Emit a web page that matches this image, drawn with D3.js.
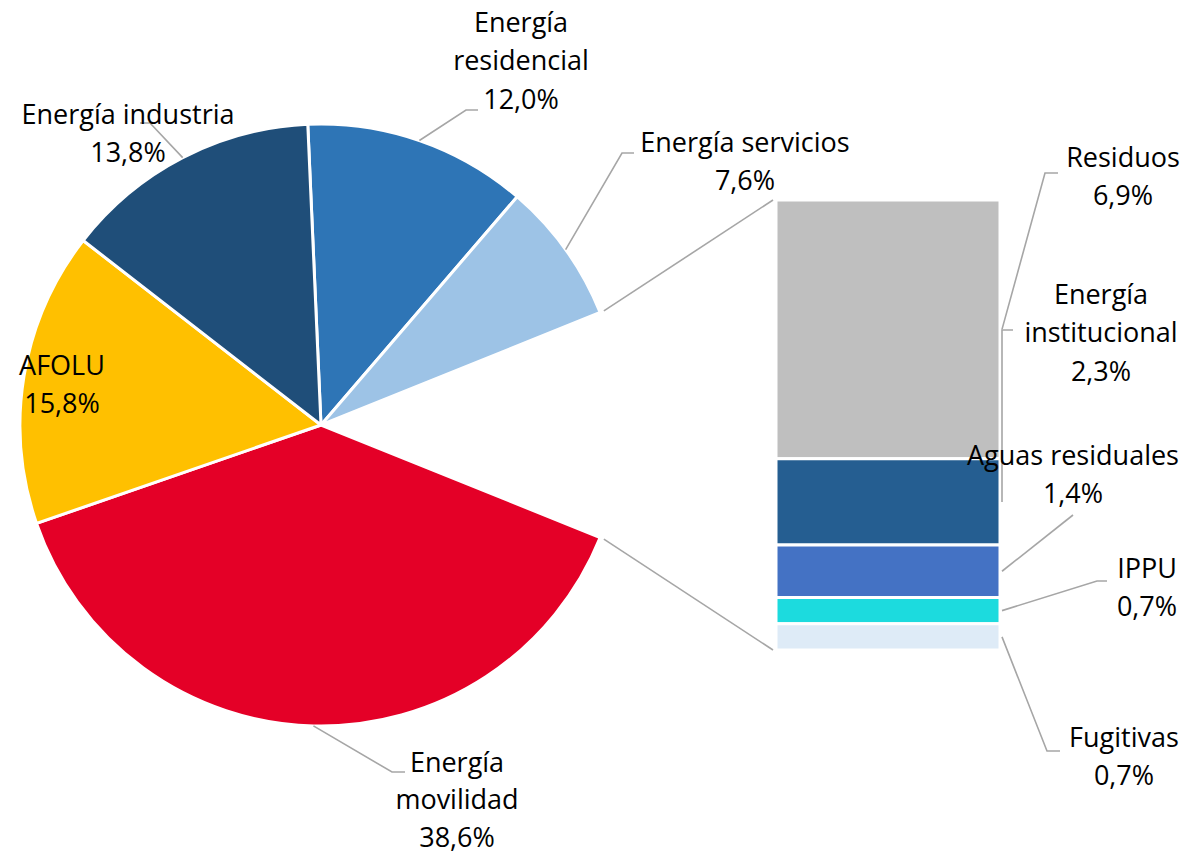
<!DOCTYPE html>
<html><head><meta charset="utf-8">
<script src="https://cdn.jsdelivr.net/npm/d3@7"></script>
<style>
html,body{margin:0;padding:0;background:#fff;}
text{font-family:"Open Sans",Lato,sans-serif;font-size:27px;fill:#000;}
</style></head>
<body><svg id="c" width="1188" height="856"></svg>
<script>
// ---- data ----
const pieCategories = ["Energía residencial","Energía servicios","Otros","Energía movilidad","AFOLU","Energía industria"];
const pieValues     = [12.0, 7.6, 12.2, 38.6, 15.8, 13.8];
const pieColors     = ["#2E75B6","#9DC3E6","none","#E40027","#FFC000","#1F4E79"];
const barCategories = ["Residuos","Energía institucional","Aguas residuales","IPPU","Fugitivas"];
const barValues     = [6.9, 2.3, 1.4, 0.7, 0.7];
const barColors     = ["#BFBFBF","#255E91","#4472C4","#1CDBDE","#DEEBF7"];

// ---- layout ----
const svg = d3.select("#c");
const cx = 321, cy = 425, R = 301;
const fmt = v => v.toFixed(1).replace(".", ",") + "%";
const LH = 38.5;

// pie: rotate so "Otros" slice is centred at 3 o'clock
const total = d3.sum(pieValues);
const before = pieValues[0] + pieValues[1] + pieValues[2] / 2;
const offset = Math.PI / 2 - before / total * 2 * Math.PI;
const pie = d3.pie().sort(null).value(d => d.v)
  .startAngle(offset).endAngle(offset + 2 * Math.PI);
const arcs = pie(pieCategories.map((c, i) => ({c, v: pieValues[i], col: pieColors[i]})));
const arc = d3.arc().innerRadius(0).outerRadius(R);
const g = svg.append("g").attr("transform", `translate(${cx},${cy})`);
g.selectAll("path").data(arcs.filter(d => d.data.c !== "Otros")).join("path")
  .attr("d", arc).attr("fill", d => d.data.col)
  .attr("stroke", "#fff").attr("stroke-width", 3).attr("stroke-linejoin", "round");

const polar = (a, r) => [cx + r * Math.sin(a), cy - r * Math.cos(a)];

// bar of pie
const barX0 = 776, barX1 = 1000;
const y = d3.scaleLinear().domain([0, d3.sum(barValues)]).range([200, 650]);
let acc = 0;
const segs = barCategories.map((c, i) => { const s = {c, v: barValues[i], col: barColors[i], a: acc}; acc += barValues[i]; return s; });
svg.selectAll("rect.seg").data(segs).join("rect").attr("class", "seg")
  .attr("x", barX0).attr("width", barX1 - barX0)
  .attr("y", d => y(d.a)).attr("height", d => y(d.a + d.v) - y(d.a))
  .attr("fill", d => d.col).attr("stroke", "#fff").attr("stroke-width", 3);

// connectors between pie and bar
const otros = arcs.find(d => d.data.c === "Otros");
const pTop = polar(otros.startAngle, R + 4), pBot = polar(otros.endAngle, R + 4);
const lineCol = "#A6A6A6";
svg.append("line").attr("x1", pTop[0]).attr("y1", pTop[1]).attr("x2", barX0 - 3).attr("y2", y(0))
  .attr("stroke", lineCol).attr("stroke-width", 1.6);
svg.append("line").attr("x1", pBot[0]).attr("y1", pBot[1]).attr("x2", barX0 - 3).attr("y2", y(d3.sum(barValues)))
  .attr("stroke", lineCol).attr("stroke-width", 1.6);

// label layout (positions only)
const pieLabelLayout = {
  "Energía residencial": {lines: ["Energía", "residencial"], x: 521, y: 22, elbow: [[466,110],[478,110]]},
  "Energía servicios":   {lines: ["Energía servicios"], x: 745, y: 142, elbow: [[622,153],[634,153]]},
  "Energía movilidad":   {lines: ["Energía", "movilidad"], x: 457, y: 762, elbow: [[392,772],[405,772]], lh: 37.5},
  "AFOLU":               {lines: ["AFOLU"], x: 62, y: 365, elbow: null},
  "Energía industria":   {lines: ["Energía industria"], x: 128, y: 114, elbow: [[150,123],[140,123]]}
};
const barLabelLayout = {
  "Residuos":              {lines: ["Residuos"], x: 1123, y: 157, elbow: [[1045,173],[1058,173]]},
  "Energía institucional": {lines: ["Energía", "institucional"], x: 1101, y: 294, elbow: [[1002,330],[1013,330]]},
  "Aguas residuales":      {lines: ["Aguas residuales"], x: 1073, y: 455, elbow: [[1073,515]]},
  "IPPU":                  {lines: ["IPPU"], x: 1147, y: 568, elbow: [[1097,581],[1107,581]]},
  "Fugitivas":             {lines: ["Fugitivas"], x: 1124, y: 737, elbow: [[1047,751],[1060,751]]}
};

const line = d3.line();
function drawLabel(L, value, start) {
  if (L.elbow) {
    svg.append("path").attr("d", line([start, ...L.elbow])).attr("fill", "none")
      .attr("stroke", lineCol).attr("stroke-width", 1.6);
  }
  const t = svg.append("text").attr("text-anchor", "middle");
  const all = [...L.lines, fmt(value)];
  const lh = L.lh || LH;
  all.forEach((s, i) => t.append("tspan").attr("x", L.x).attr("y", L.y + i * lh).attr("dy", "0.36em").text(s));
}

arcs.forEach(d => {
  const L = pieLabelLayout[d.data.c];
  if (!L) return;
  const mid = (d.startAngle + d.endAngle) / 2;
  drawLabel(L, d.data.v, polar(mid, R));
});
segs.forEach(d => {
  const L = barLabelLayout[d.c];
  drawLabel(L, d.v, [barX1 + 2, (y(d.a) + y(d.a + d.v)) / 2]);
});
</script></body></html>
